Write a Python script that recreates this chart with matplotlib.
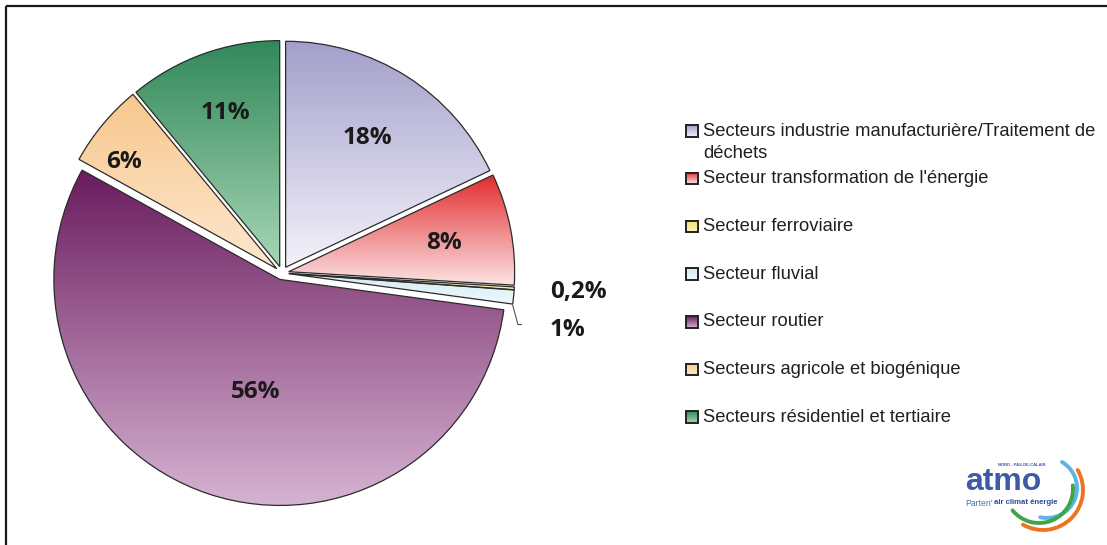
import matplotlib

matplotlib.use("Agg")
import matplotlib.pyplot as plt  # noqa: E402
import numpy as np  # noqa: E402
from matplotlib.colors import to_rgb  # noqa: E402
from matplotlib.patches import Arc, Rectangle  # noqa: E402

# Répartition des émissions par secteur (%)
secteurs = [
    "Secteurs industrie manufacturière/Traitement de\ndéchets",
    "Secteur transformation de l'énergie",
    "Secteur ferroviaire",
    "Secteur fluvial",
    "Secteur routier",
    "Secteurs agricole et biogénique",
    "Secteurs résidentiel et tertiaire",
]
parts = [18, 8, 0.2, 1, 56, 6, 11]
etiquettes = ["18%", "8%", "0,2%", "1%", "56%", "6%", "11%"]

# dégradés haut -> bas de chaque secteur
haut = ["#a39fcb", "#e32b2e", "#f2e26a", "#d3ebf3", "#6a1b5e", "#f8c78c", "#31895a"]
bas = ["#f3f2fa", "#fbe3e3", "#fbf3b8", "#eef8fb", "#d6b3d2", "#fde8d0", "#a8d6b6"]

W, H = 1107, 545
CX, CY, R = 282, 272, 226  # centre / rayon du camembert en pixels

# position des étiquettes (rayon relatif, décalage angulaire en degrés)
lbl_r = [0.70, 0.703, None, None, 0.488, 0.838, 0.742]
lbl_dt = [1, 1.3, 0, 0, 5.6, 3.5, -0.8]
lbl_dy = -0.024  # recentrage vertical du texte


def degrade(c1, c2, n=256):
    a, b = np.array(to_rgb(c1)), np.array(to_rgb(c2))
    t = np.linspace(0, 1, n)[:, None]
    return (a + (b - a) * t)[:, None, :]


fig = plt.figure(figsize=(W / 100, H / 100), dpi=100)
fig.patch.set_facecolor("white")

half = 240
ax = fig.add_axes((
    (CX - half) / W, (CY - half) / H, 2 * half / W, 2 * half / H
))
ax.axis("off")

wedges, _ = ax.pie(
    parts,
    startangle=90,
    counterclock=False,
    explode=[0.03] * len(parts),
    wedgeprops=dict(facecolor="none", edgecolor="#2b2b2b", linewidth=0.9),
)

for w, c1, c2 in zip(wedges, haut, bas):
    bb = w.get_path().get_extents()
    im = ax.imshow(
        degrade(c1, c2),
        extent=(bb.x0, bb.x1, bb.y0, bb.y1),
        origin="upper",
        aspect="auto",
        interpolation="bilinear",
        zorder=0,
    )
    im.set_clip_path(w)

lbl_font = dict(family=["Open Sans", "DejaVu Sans"], fontsize=17.5,
                fontweight="bold", color="#1a1a1a")
for i, (w, txt) in enumerate(zip(wedges, etiquettes)):
    if lbl_r[i] is None:
        continue
    ang = np.deg2rad((w.theta1 + w.theta2) / 2 + lbl_dt[i])
    cx, cy = w.center
    ax.text(cx + lbl_r[i] * np.cos(ang), cy + lbl_r[i] * np.sin(ang) + lbl_dy, txt,
            ha="center", va="center", **lbl_font)

# petites parts : étiquettes à l'extérieur
x_ext = 1.186
ax.text(x_ext, -0.084, etiquettes[2], ha="left", va="center", **lbl_font)
ax.text(x_ext, -0.252, etiquettes[3], ha="left", va="center", **lbl_font)
wf = wedges[3]
a_f = np.deg2rad((wf.theta1 + wf.theta2) / 2 - 2)
px = wf.center[0] + wf.r * np.cos(a_f)
py = wf.center[1] + wf.r * np.sin(a_f)
ax.plot([px, 1.044, 1.11], [py, -0.228, -0.228], color="#555555", lw=0.8)

lim = half / R
ax.set_xlim(-lim, lim)
ax.set_ylim(-lim, lim)
ax.set_aspect("equal")

# calque en pixels pour le cadre, la légende et le logo
ov = fig.add_axes((0, 0, 1, 1), zorder=-1)
ov.set_xlim(0, W)
ov.set_ylim(H, 0)
ov.axis("off")

ov.plot([6, W], [6, 6], color="#1a1a1a", lw=1.6, solid_capstyle="butt")
ov.plot([6, 6], [6, H], color="#1a1a1a", lw=1.6, solid_capstyle="butt")

ov2 = fig.add_axes((0, 0, 1, 1))
ov2.set_xlim(0, W)
ov2.set_ylim(H, 0)
ov2.axis("off")

row0, pas, box = 131, 47.7, 11.5
for i, lab in enumerate(secteurs):
    yc = row0 + i * pas
    ov2.imshow(degrade(haut[i], bas[i], 32),
               extent=(686, 686 + box, yc + box / 2, yc - box / 2),
               origin="upper", aspect="auto", interpolation="bilinear")
    ov2.add_patch(Rectangle((686, yc - box / 2), box, box, fill=False,
                            edgecolor="#222222", lw=1.4))
    for k, ligne in enumerate(lab.split("\n")):
        ov2.text(703, yc + k * 22, ligne, ha="left", va="center",
                 family="Liberation Sans", fontsize=13.25, color="#231f20")

# logo atmo
ov2.text(1003, 482, "atmo", ha="center", va="center", family="Liberation Sans",
         fontsize=23, fontweight="bold", color="#3c5aa6")
ov2.text(1022, 465, "NORD - PAS-DE-CALAIS", ha="center", va="center",
         family="Liberation Sans", fontsize=3, fontweight="bold", color="#3c5aa6")
ov2.text(965, 503, "Parten'", ha="left", va="center", family="Liberation Sans",
         fontsize=6.2, color="#4a6cb5")
ov2.text(994, 503, "air climat énergie", ha="left", va="center",
         family="Liberation Sans", fontsize=5.6, fontweight="bold", color="#2d4b9a")
for (cx, cy, r, a1, a2, col) in [
    (1047, 488, 30, -103, 60, "#5ab4e5"),
    (1039, 489, 34, -141, 6, "#3fa548"),
    (1043, 490, 40, -120, 30, "#ee7322"),
]:
    ov2.add_patch(Arc((cx, cy), 2 * r, 2 * r, theta1=-a2, theta2=-a1,
                      color=col, lw=2.8, capstyle="round"))

ov2.set_xlim(0, W)
ov2.set_ylim(H, 0)

fig.savefig("out.png", dpi=100, facecolor="white")
